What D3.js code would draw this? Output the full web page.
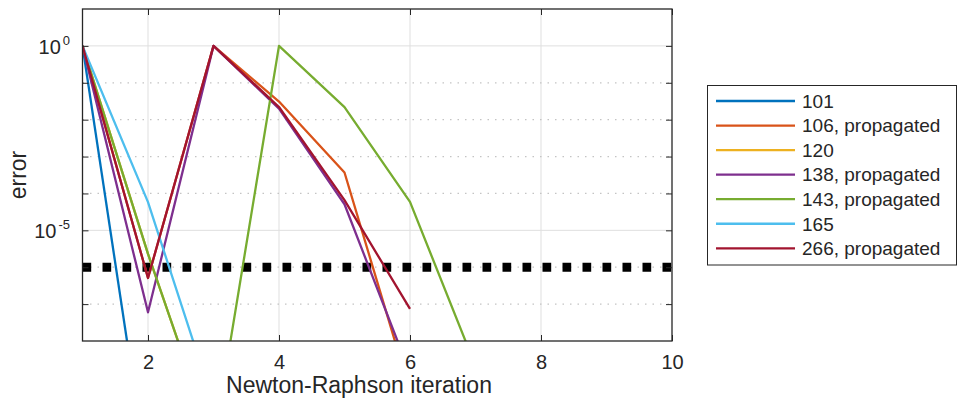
<!DOCTYPE html>
<html>
<head>
<meta charset="utf-8">
<script src="https://cdn.jsdelivr.net/npm/d3@7"></script>
<style>
  body { margin: 0; background: #fff; }
  text { font-family: "Liberation Sans", Arial, Helvetica, sans-serif; fill: #262626; }
</style>
</head>
<body>
<svg id="chart" width="961" height="401"></svg>
<script>
// Newton-Raphson convergence history: error per iteration (iteration 1, 2, ...)
const seriesNames = ["101", "106, propagated", "120", "138, propagated", "143, propagated", "165", "266, propagated"];
const seriesColors = ["#0072BD", "#D95319", "#EDB120", "#7E2F8E", "#77AC30", "#4DBEEE", "#A2142F"];

const err101 = [1, 1.7e-12];
const err106 = [1, 5.1e-7, 1, 3.1e-2, 3.7e-4, 4.3e-10];
const err120 = [1, 2.3e-6, 1.6e-11];
const err138 = [1, 6.0e-8, 1, 2.0e-2, 5.1e-5, 1.35e-9];
const err143 = [1, 2.3e-6, 1.6e-11, 1, 2.2e-2, 5.9e-5, 2.1e-9];
const err165 = [1, 5.8e-5, 2.0e-10];
const err266 = [1, 5.1e-7, 1, 2.2e-2, 6.6e-5, 7.4e-8];

const tolerance = 1e-6;

const xTicks = [2, 4, 6, 8, 10];
const yMajorTicks = [1e0, 1e-5];
const yMajorExponents = ["0", "-5"];
const yDecades = [1e-7, 1e-6, 1e-5, 1e-4, 1e-3, 1e-2, 1e-1, 1e0];

const allSeries = [err101, err106, err120, err138, err143, err165, err266];

const svg = d3.select("#chart");
const L = 82.5, R = 672, T = 9, B = 341;
const x = d3.scaleLinear().domain([1, 10]).range([L, R]);
const y = d3.scaleLog().domain([1e-8, 1e1]).range([B, T]);
const axisColor = "#262626";
const gridColor = "#dfdfdf";

svg.append("rect").attr("width", 961).attr("height", 401).attr("fill", "#fff");

// grid
const grid = svg.append("g");
grid.selectAll(".gx").data(xTicks.filter(d => d < 10)).join("line")
  .attr("x1", d => x(d)).attr("x2", d => x(d)).attr("y1", T).attr("y2", B)
  .attr("stroke", gridColor).attr("stroke-width", 1);
grid.selectAll(".gy").data(yDecades).join("line")
  .attr("x1", L).attr("x2", R).attr("y1", d => y(d)).attr("y2", d => y(d))
  .attr("stroke", d => yMajorTicks.includes(d) ? gridColor : "#c4c4c4")
  .attr("stroke-width", d => yMajorTicks.includes(d) ? 1 : 1.2)
  .attr("stroke-dasharray", d => yMajorTicks.includes(d) ? null : "1.5,6");

svg.append("clipPath").attr("id", "plotclip")
  .append("rect").attr("x", L).attr("y", T).attr("width", R - L).attr("height", B - T);

const plot = svg.append("g").attr("clip-path", "url(#plotclip)");

// tolerance line
plot.append("line")
  .attr("x1", x(1)).attr("x2", x(10))
  .attr("y1", y(tolerance)).attr("y2", y(tolerance))
  .attr("stroke", "#000").attr("stroke-width", 9)
  .attr("stroke-dasharray", "8.7,11.3");

const line = d3.line().x((d, i) => x(i + 1)).y(d => y(d));
plot.selectAll(".series").data(allSeries).join("path")
  .attr("d", d => line(d))
  .attr("fill", "none")
  .attr("stroke", (d, i) => seriesColors[i])
  .attr("stroke-width", 2.3)
  .attr("stroke-linejoin", "round");

// axes box and ticks
const tickLen = 6;
const xAxisB = d3.axisBottom(x).tickValues(xTicks).tickSizeInner(-tickLen).tickSizeOuter(0).tickPadding(14)
  .tickFormat(d3.format("d"));
const gxb = svg.append("g").attr("transform", `translate(0,${B})`).call(xAxisB);
gxb.select(".domain").remove();
gxb.selectAll("line").attr("stroke", axisColor);
gxb.selectAll("text").attr("font-size", 20).attr("fill", axisColor).attr("font-family", "Liberation Sans, Arial, sans-serif");

const xAxisT = d3.axisTop(x).tickValues(xTicks).tickSizeInner(-tickLen).tickSizeOuter(0).tickFormat("");
const gxt = svg.append("g").attr("transform", `translate(0,${T})`).call(xAxisT);
gxt.select(".domain").remove();
gxt.selectAll("line").attr("stroke", axisColor);

const yAxisL = d3.axisLeft(y).tickValues(yDecades).tickSizeInner(-tickLen).tickSizeOuter(0).tickFormat("");
const gyl = svg.append("g").attr("transform", `translate(${L},0)`).call(yAxisL);
gyl.select(".domain").remove();
gyl.selectAll("line").attr("stroke", axisColor);

const yAxisR = d3.axisRight(y).tickValues(yDecades).tickSizeInner(-tickLen).tickSizeOuter(0).tickFormat("");
const gyr = svg.append("g").attr("transform", `translate(${R},0)`).call(yAxisR);
gyr.select(".domain").remove();
gyr.selectAll("line").attr("stroke", axisColor);

// y tick labels as powers of ten
const ylab = svg.append("g");
yMajorTicks.forEach((v, i) => {
  const t = ylab.append("text")
    .attr("x", 70).attr("y", y(v) + 8)
    .attr("text-anchor", "end").attr("font-size", 20);
  t.append("tspan").text("10");
  t.append("tspan").attr("dx", 2).attr("dy", -9).attr("font-size", 13).text(yMajorExponents[i]);
});

svg.append("rect").attr("x", L).attr("y", T).attr("width", R - L).attr("height", B - T)
  .attr("fill", "none").attr("stroke", axisColor).attr("stroke-width", 1.3);

// axis labels
svg.append("text").attr("x", 359).attr("y", 393).attr("text-anchor", "middle")
  .attr("font-size", 23).text("Newton-Raphson iteration");
svg.append("text").attr("transform", `translate(25.5,${(T + B) / 2}) rotate(-90)`)
  .attr("text-anchor", "middle").attr("font-size", 23).text("error");

// legend
const lg = svg.append("g");
lg.append("rect").attr("x", 707.5).attr("y", 85.5).attr("width", 249).attr("height", 179.5)
  .attr("fill", "#fff").attr("stroke", axisColor).attr("stroke-width", 1);
seriesNames.forEach((name, i) => {
  const cy = 101 + i * 24.55;
  lg.append("line").attr("x1", 716).attr("x2", 795).attr("y1", cy).attr("y2", cy)
    .attr("stroke", seriesColors[i]).attr("stroke-width", 2.3);
  lg.append("text").attr("x", 802).attr("y", cy + 6.8).attr("font-size", 19).attr("fill", "#000").text(name);
});
</script>
</body>
</html>
